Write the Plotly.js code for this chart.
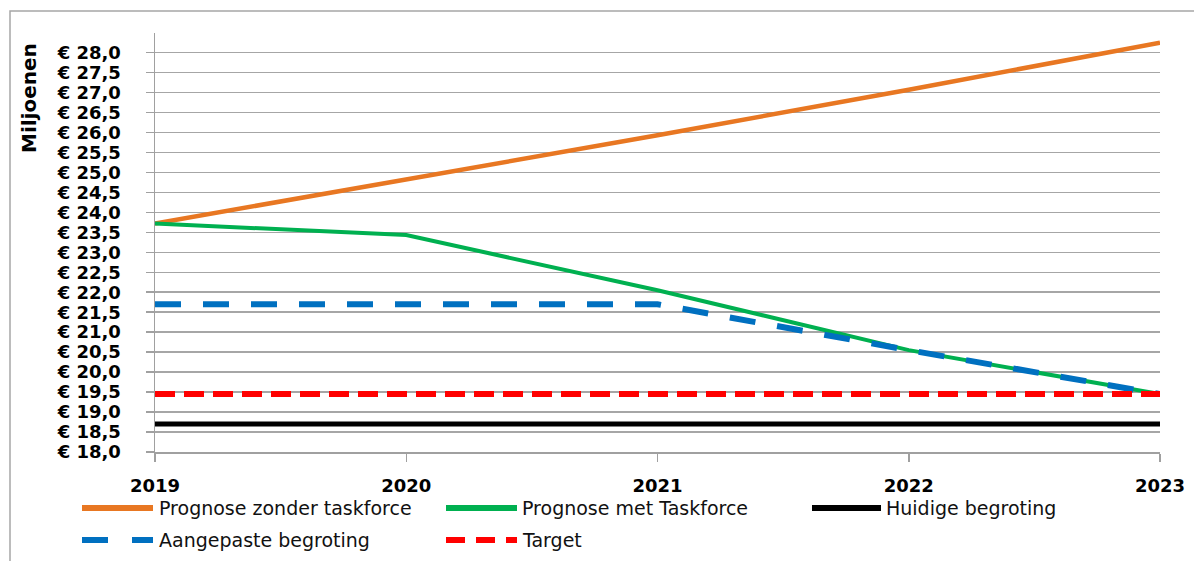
<!DOCTYPE html>
<html>
<head>
<meta charset="utf-8">
<script src="https://cdn.plot.ly/plotly-3.0.1.min.js"></script>
<style>
  html, body { margin: 0; padding: 0; background: #fff; }
  #chart { width: 1194px; height: 561px; }
</style>
</head>
<body>
<div id="chart"></div>
<script>
// ---- data ----
const years = [2019, 2020, 2021, 2022, 2023];
const zonderTaskforce = [23.72, 24.82, 25.93, 27.07, 28.25];
const metTaskforce = [23.72, 23.43, 22.05, 20.55, 19.45];
const huidigeBegroting = [18.7, 18.7, 18.7, 18.7, 18.7];
const aangepasteBegroting = [21.7, 21.7, 21.7, 20.55, 19.45];
const target = [19.45, 19.45, 19.45, 19.45, 19.45];

const seriesNames = ["Prognose zonder taskforce", "Prognose met Taskforce", "Huidige begroting", "Aangepaste begroting", "Target"];
const seriesColors = ["#E87722", "#00B050", "#000000", "#0070C0", "#FF0000"];
const seriesDash = ["solid", "solid", "solid", "26px,22px", "20px,9px"];
const seriesWidth = [4.5, 4, 5, 6, 6];
const seriesValues = [zonderTaskforce, metTaskforce, huidigeBegroting, aangepasteBegroting, target];

const yAxisTitle = "Miljoenen";

// ---- geometry helpers (layout only) ----
const W = 1194, H = 561;
const M = {l: 155, r: 34, t: 33, b: 109};
const PW = W - M.l - M.r, PH = H - M.t - M.b;
const px2x = px => (px - M.l) / PW;
const py2y = py => (H - M.b - py) / PH;

const FONT = "DejaVu Sans";

const traces = seriesValues.map((vals, i) => ({
  x: years,
  y: vals,
  type: "scatter",
  mode: "lines",
  name: seriesNames[i],
  line: {color: seriesColors[i], width: seriesWidth[i], dash: seriesDash[i]},
  showlegend: false,
  hoverinfo: "skip"
}));

// custom legend (two rows, Excel style)
const legendPos = [
  {x0: 82, x1: 153, tx: 157, y: 508},
  {x0: 446, x1: 517, tx: 520, y: 508},
  {x0: 812, x1: 881, tx: 884, y: 508},
  {x0: 82, x1: 153, tx: 157, y: 540},
  {x0: 446, x1: 517, tx: 520, y: 540}
];
const legendDash = ["solid", "solid", "solid", "26px,24px", "19px,11px"];

const shapes = [
  // outer chart frame (continues beyond the visible area)
  {type: "rect", xref: "paper", yref: "paper",
   x0: px2x(10), x1: px2x(1260), y0: py2y(11), y1: py2y(640),
   line: {color: "#a6a6a6", width: 1.5}, fillcolor: "rgba(0,0,0,0)", layer: "below"}
];
const annotations = [
  {xref: "paper", yref: "paper", x: px2x(29), y: py2y(98), text: "<b>" + yAxisTitle + "</b>",
   showarrow: false, textangle: -90, xanchor: "center", yanchor: "middle",
   font: {family: FONT, size: 20, color: "#000"}}
];
legendPos.forEach((p, i) => {
  shapes.push({type: "line", xref: "paper", yref: "paper",
    x0: px2x(p.x0), x1: px2x(p.x1), y0: py2y(p.y), y1: py2y(p.y),
    line: {color: seriesColors[i], width: 6, dash: legendDash[i]}});
  annotations.push({xref: "paper", yref: "paper", x: px2x(p.tx), y: py2y(p.y),
    text: seriesNames[i], showarrow: false, xanchor: "left", yanchor: "middle",
    font: {family: FONT, size: 19, color: "#111"}});
});

const layout = {
  width: W, height: H,
  margin: M,
  paper_bgcolor: "#fff", plot_bgcolor: "#fff",
  separators: ",.",
  showlegend: false,
  font: {family: FONT, color: "#000"},
  xaxis: {
    type: "linear", range: [2019, 2023], tick0: 2019, dtick: 1,
    showgrid: false, zeroline: false,
    showline: true, linecolor: "#a0a0a0", linewidth: 1.5,
    ticks: "outside", ticklen: 8, tickwidth: 1.5, tickcolor: "#a0a0a0",
    ticklabelstandoff: 9,
    tickfont: {family: FONT, size: 18, weight: "bold", color: "#000"}
  },
  yaxis: {
    range: [18, 28.49], tick0: 18, dtick: 0.5,
    tickprefix: "€ ", tickformat: ".1f",
    showgrid: true, gridcolor: "#a6a6a6", gridwidth: 1.5,
    zeroline: false,
    showline: true, linecolor: "#a0a0a0", linewidth: 1.5,
    ticks: "outside", ticklen: 8, tickwidth: 1.5, tickcolor: "#a0a0a0",
    ticklabelstandoff: 21,
    tickfont: {family: FONT, size: 18, weight: "bold", color: "#000"}
  },
  shapes: shapes,
  annotations: annotations
};

Plotly.newPlot("chart", traces, layout, {displayModeBar: false, staticPlot: true});
</script>
</body>
</html>
